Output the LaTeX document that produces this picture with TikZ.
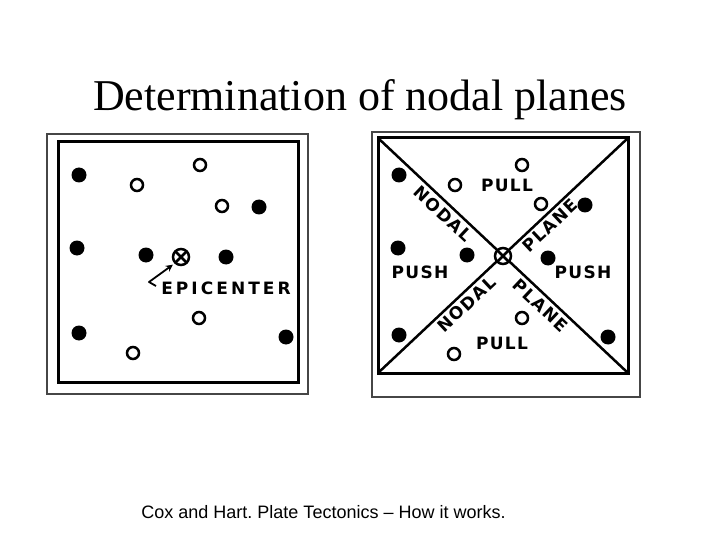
\documentclass[tikz,border=0pt]{standalone}
\usepackage{fontspec}
\setmainfont{Liberation Serif}
\newfontfamily\capfont{Liberation Sans}
\newfontfamily\handfont[LetterSpace=8]{DejaVu Sans}
\frenchspacing
\usetikzlibrary{arrows.meta}
\definecolor{framegray}{RGB}{70,70,70}
\tikzset{
  % Panel frames
  outerframe/.style = {draw=framegray, line width=1.2pt},
  innerframe/.style = {draw=black, line width=3pt},
  % Nodal planes
  planeline/.style  = {draw=black, line width=2.5pt},
  % First motions
  pushdot/.style    = {circle, fill=black, inner sep=0pt, minimum size=15pt},
  pulldot/.style    = {circle, draw=black, line width=2.5pt, inner sep=0pt, minimum size=12pt},
  epicdot/.style    = {circle, draw=black, fill=white, line width=2.5pt, inner sep=0pt,
                       minimum size=16pt,
                       path picture={\draw[line width=2.5pt]
                         (path picture bounding box.north west) -- (path picture bounding box.south east)
                         (path picture bounding box.north east) -- (path picture bounding box.south west);}},
  % Labels
  handlab/.style    = {font=\handfont\bfseries\fontsize{17}{17}\selectfont, inner sep=1pt},
  planelab/.style   = {handlab, sloped, below, inner sep=3pt},
  leader/.style     = {-{Stealth[length=7pt,width=7pt]}, line width=1.8pt, line join=round},
}
\begin{document}
\begin{tikzpicture}[x=1pt, y=-1pt]
  \useasboundingbox (0,0) rectangle (720,540);
  % Title and source
  \node[anchor=base, inner sep=0pt, font=\fontsize{44}{50}\selectfont] (title) at (360,111)
    {Determination of nodal planes};
  \node[anchor=base, inner sep=0pt, font=\capfont\fontsize{18}{20}\selectfont] (source) at (323.5,518)
    {Cox and Hart. Plate Tectonics \textendash{} How it works.};

  % Left panel: stations round the epicenter
  \draw[outerframe] (47,134) rectangle (308,394);
  \draw[innerframe] (58,142) rectangle (298,382);
  \node[pushdot] (lpush1) at (79,175) {};
  \node[pushdot] (lpush2) at (259,207) {};
  \node[pushdot] (lpush3) at (77,248) {};
  \node[pushdot] (lpush4) at (146,255) {};
  \node[pushdot] (lpush5) at (226,257) {};
  \node[pushdot] (lpush6) at (79,333) {};
  \node[pushdot] (lpush7) at (286,337) {};
  \node[pulldot] (lpull1) at (137,185) {};
  \node[pulldot] (lpull2) at (200,165) {};
  \node[pulldot] (lpull3) at (222,206) {};
  \node[pulldot] (lpull4) at (199,318) {};
  \node[pulldot] (lpull5) at (133,353) {};
  \node[epicdot] (lepic) at (181,257) {};
  \node[handlab, font=\handfont\bfseries\fontsize{17}{17}\selectfont\addfontfeature{LetterSpace=18}]
    (epilab) at (226,288) {EPICENTER};
  \coordinate (epihook) at (156,286);
  \coordinate (epitail) at (149,282);
  \draw[leader, shorten >=2pt] (epihook) -- (epitail) -- (lepic.south west);

  % Right panel: the same stations with the two nodal planes
  \draw[outerframe] (372,132) rectangle (640,397);
  \draw[innerframe] (378,138) rectangle (628,373);
  \coordinate (rnw) at (378,138);
  \coordinate (rne) at (628,138);
  \coordinate (rsw) at (378,373);
  \coordinate (rse) at (628,373);
  \draw[planeline] (rnw) -- (rse)
    node[planelab, pos=0.29] (nodal1) {NODAL}
    node[planelab, pos=0.68] (plane2) {PLANE};
  \draw[planeline] (rsw) -- (rne)
    node[planelab, pos=0.325] (nodal2) {NODAL}
    node[planelab, pos=0.66] (plane1) {PLANE};
  \node[pushdot] (rpush1) at (399,175) {};
  \node[pushdot] (rpush2) at (585,205) {};
  \node[pushdot] (rpush3) at (398,248) {};
  \node[pushdot] (rpush4) at (467,255) {};
  \node[pushdot] (rpush5) at (548,258) {};
  \node[pushdot] (rpush6) at (399,335) {};
  \node[pushdot] (rpush7) at (608,337) {};
  \node[pulldot, fill=white] (rpull1) at (455,185) {};
  \node[pulldot, fill=white] (rpull2) at (522,165) {};
  \node[pulldot, fill=white] (rpull3) at (541,204) {};
  \node[pulldot, fill=white] (rpull4) at (522,318) {};
  \node[pulldot, fill=white] (rpull5) at (454,354) {};
  \node[epicdot] (repic) at (503,256) {};
  % Quadrant labels
  \node[handlab] (pulltop) at (507,185) {PULL};
  \node[handlab] (pushleft) at (420,272) {PUSH};
  \node[handlab] (pushright) at (583,272) {PUSH};
  \node[handlab] (pullbot) at (502,343) {PULL};
\end{tikzpicture}
\end{document}
